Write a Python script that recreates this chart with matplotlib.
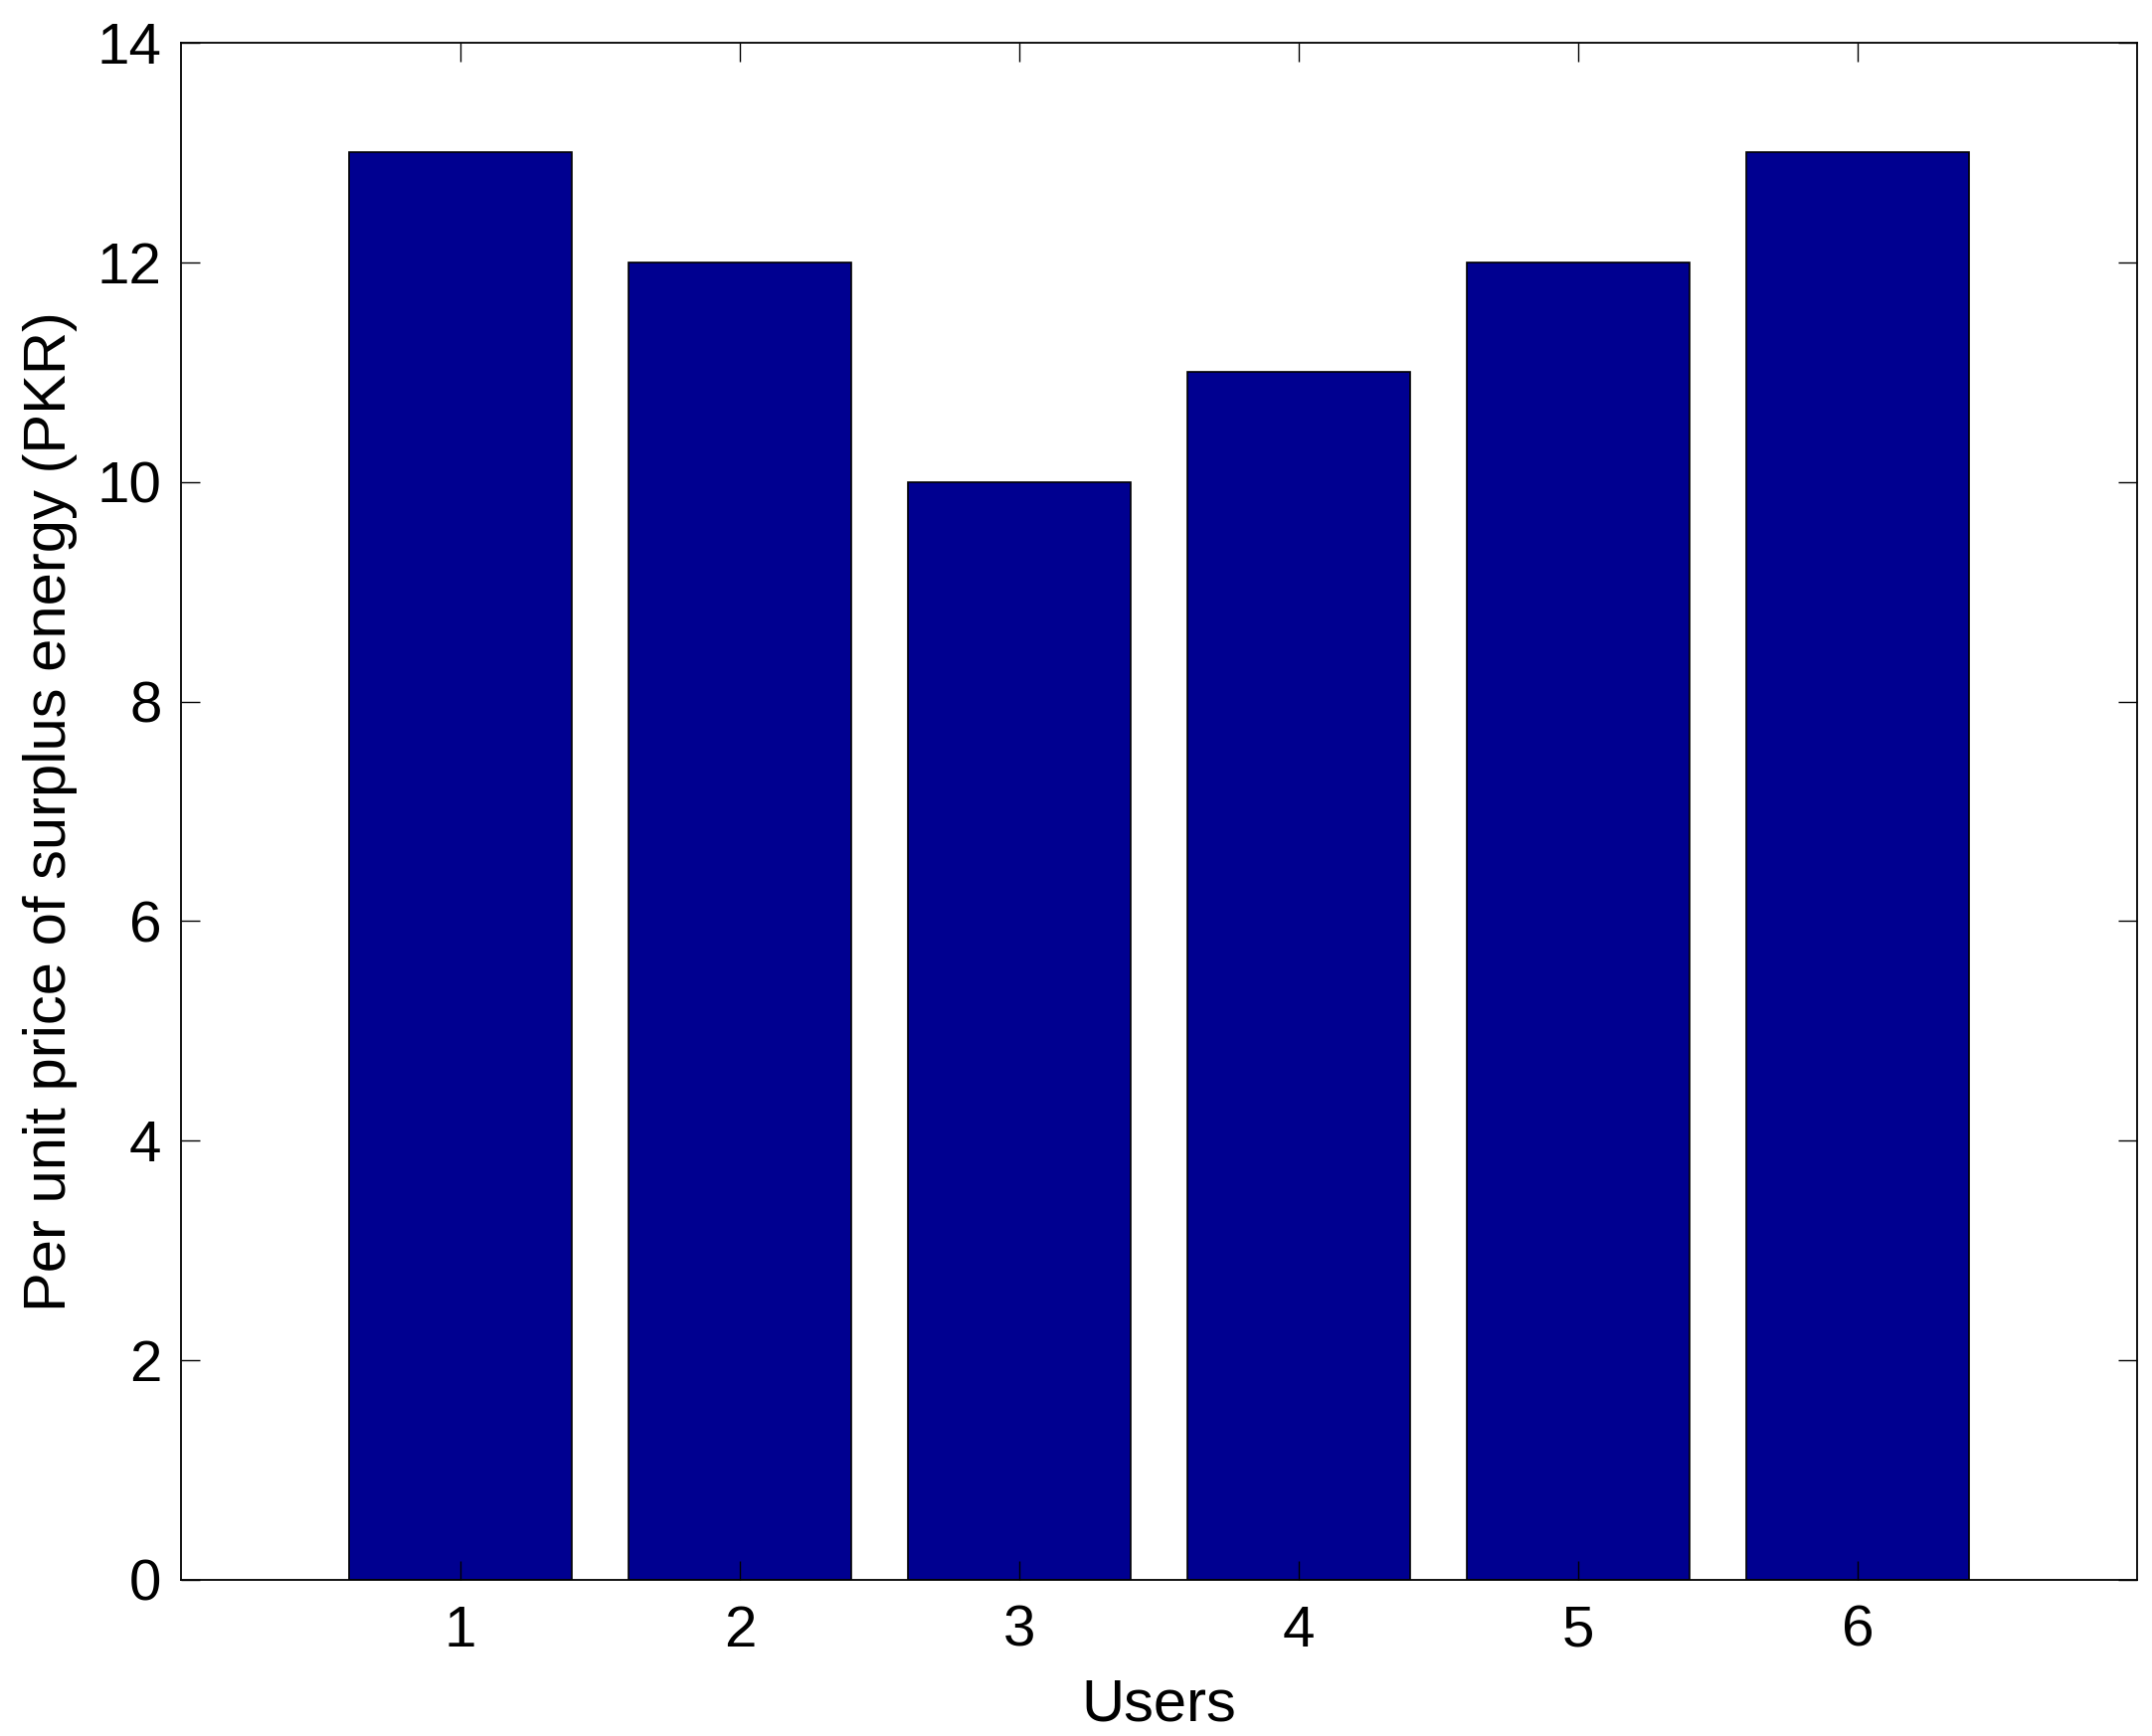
import numpy as np
import matplotlib.pyplot as plt

users = [1, 2, 3, 4, 5, 6]
price = [13, 12, 10, 11, 12, 13]
yticks = [0, 2, 4, 6, 8, 10, 12, 14]

plt.rcParams["font.family"] = ["Liberation Sans", "DejaVu Sans"]

fig = plt.figure(figsize=(21.64, 17.46), dpi=100)
ax = fig.add_axes([182 / 2164, 1 - 1589 / 1746, (2149 - 182) / 2164, (1589 - 43) / 1746])

ax.bar(users, price, width=0.8, color="#000090", edgecolor="black", linewidth=1.2)

ax.set_xlim(0, 7)
ax.set_ylim(0, 14)
ax.set_xticks(users)
ax.set_yticks(yticks)
ax.tick_params(direction="in", length=14, width=1, top=True, right=True,
               labelsize=42, pad=14)
ax.tick_params(axis="x", pad=18)
for s in ax.spines.values():
    s.set_linewidth(1.3)

ax.set_xlabel("Users", fontsize=43, labelpad=14)
ax.set_ylabel("Per unit price of surplus energy (PKR)", fontsize=43, labelpad=14)

fig.savefig("out.png", dpi=100)
